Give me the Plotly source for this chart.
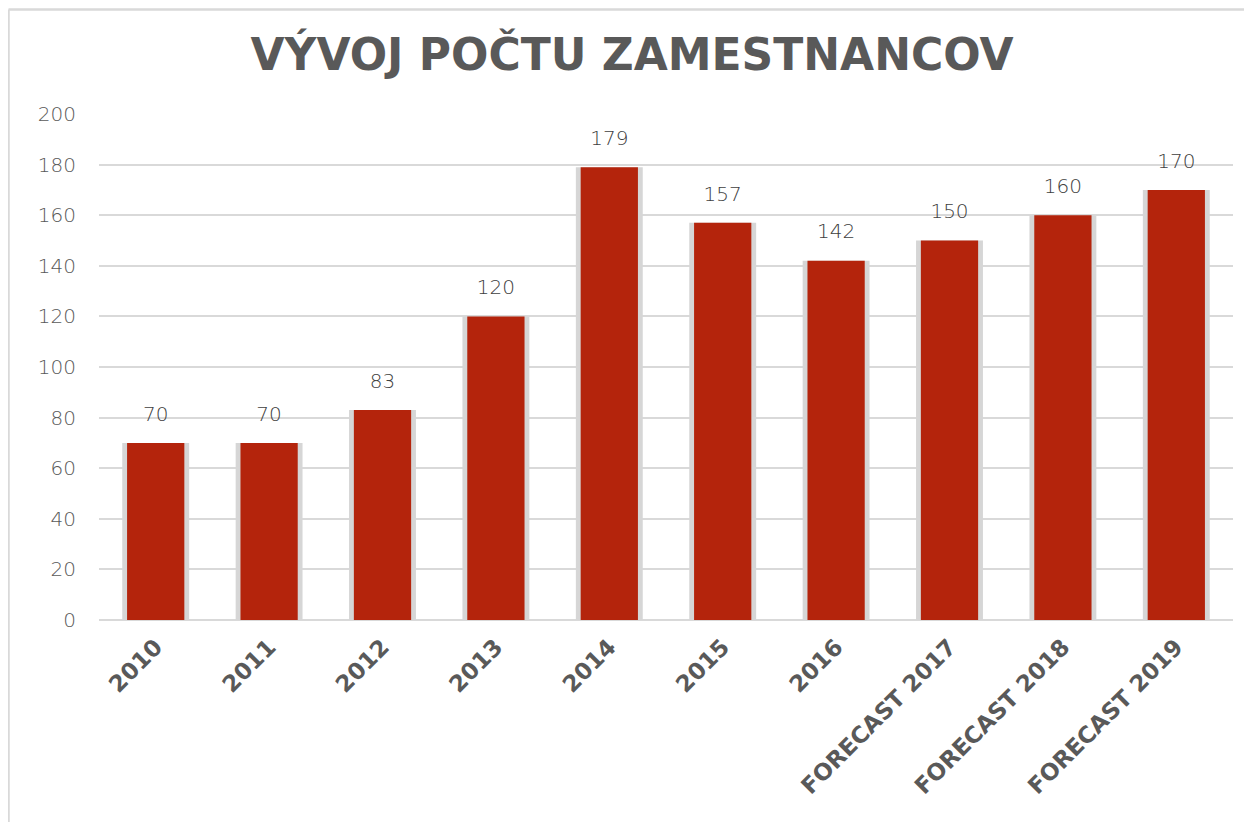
import plotly.graph_objects as go

years = ["2010", "2011", "2012", "2013", "2014", "2015", "2016",
         "FORECAST 2017", "FORECAST 2018", "FORECAST 2019"]
employees = [70, 70, 83, 120, 179, 157, 142, 150, 160, 170]
y_ticks = [0, 20, 40, 60, 80, 100, 120, 140, 160, 180, 200]

W, H = 1252, 822
ML, MR, MT, MB = 91, 27, 106, 210
PW, PH = W - ML - MR, H - MT - MB

GREY = "#595959"
GRID = "#d9d9d9"

fig = go.Figure()

# soft shadow behind each bar
fig.add_trace(go.Bar(
    x=years, y=employees, width=0.59,
    marker=dict(color="#d6d6d6", line=dict(width=0)),
    hoverinfo="skip", showlegend=False,
))
fig.add_trace(go.Bar(
    x=years, y=employees, width=0.505,
    marker=dict(color="#b4240c", line=dict(width=0)),
    showlegend=False,
    hovertemplate="%{x}: %{y}<extra></extra>",
))
# value labels above bars (invisible marker pushes the text up)
fig.add_trace(go.Scatter(
    x=years, y=employees, mode="markers+text",
    marker=dict(size=26, opacity=0),
    text=[str(v) for v in employees],
    textposition="top center",
    textfont=dict(family="DejaVu Sans", size=20, color="#404040", weight=200),
    showlegend=False, hoverinfo="skip",
))

# frame lines (top + left) around the chart
px = lambda p: (p - ML) / PW
py = lambda p: (H - MB - p) / PH
fig.add_shape(type="line", xref="paper", yref="paper",
              x0=px(0.5), x1=px(W + 5), y0=py(1.5), y1=py(1.5),
              line=dict(color=GRID, width=2.5))
fig.add_shape(type="line", xref="paper", yref="paper",
              x0=px(0.5), x1=px(0.5), y0=py(1.5), y1=py(H + 5),
              line=dict(color=GRID, width=2.5))

fig.update_layout(
    width=W, height=H,
    margin=dict(l=ML, r=MR, t=MT, b=MB),
    paper_bgcolor="white", plot_bgcolor="white",
    barmode="overlay",
    title=dict(
        text="VÝVOJ POČTU ZAMESTNANCOV",
        font=dict(family="DejaVu Sans", size=44, color=GREY, weight="bold"),
        xref="container", x=624 / W, xanchor="center",
        yref="container", y=1 - 47 / H, yanchor="middle",
    ),
    xaxis=dict(
        type="category", tickangle=-45, automargin=False,
        range=[-0.5, len(years) - 0.5],
        tickfont=dict(family="DejaVu Sans", size=23, color=GREY, weight="bold"),
        showgrid=False, showline=False, ticks="",
        ticklabelstandoff=8,
    ),
    yaxis=dict(
        range=[0, 200], tickvals=y_ticks, automargin=False,
        tickfont=dict(family="DejaVu Sans", size=20, color=GREY, weight=200),
        showgrid=True, gridcolor=GRID, gridwidth=2,
        zeroline=True, zerolinecolor=GRID, zerolinewidth=2,
        showline=False, ticks="", ticklabelstandoff=22,
    ),
)

fig.write_html("out.html")
